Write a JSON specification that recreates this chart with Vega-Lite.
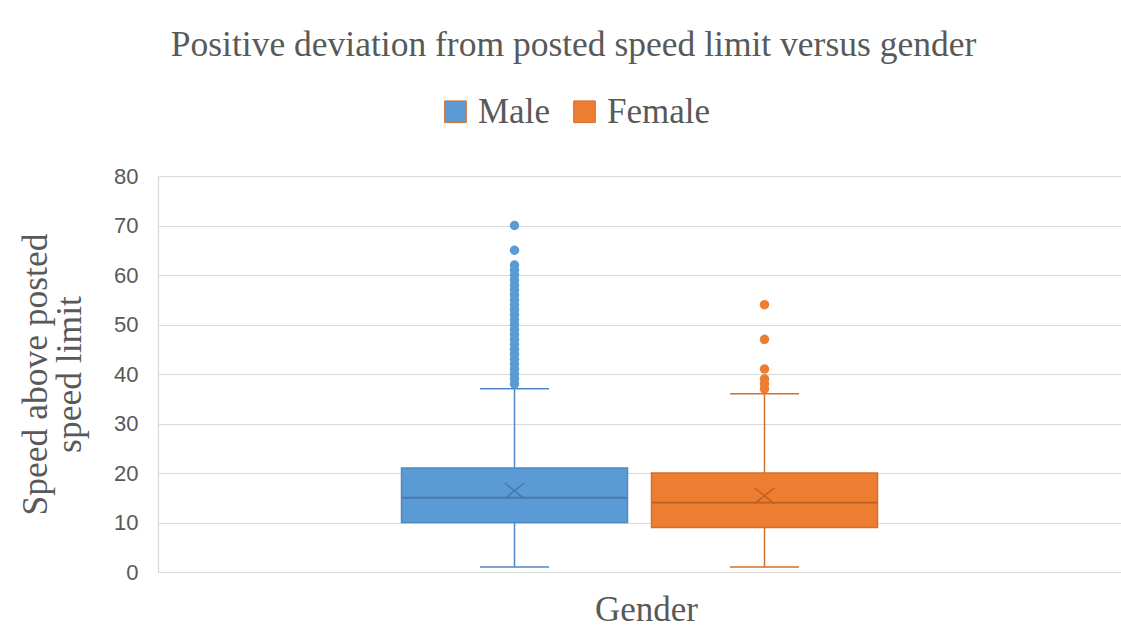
{
  "$schema": "https://vega.github.io/schema/vega-lite/v6.json",
  "width": 963,
  "height": 396,
  "autosize": "none",
  "padding": {"left": 158, "top": 176, "right": 0, "bottom": 63},
  "background": "white",
  "title": {
    "text": "Positive deviation from posted speed limit versus gender",
    "font": "Liberation Serif",
    "fontSize": 35.5,
    "fontWeight": "normal",
    "color": "#595959",
    "anchor": "middle",
    "baseline": "alphabetic",
    "dx": -66,
    "offset": 3
  },
  "datasets": {
    "boxes": [
      {"grp": "g", "gender": "Male", "lower": 1, "q1": 10, "median": 15, "q3": 21, "upper": 37, "mean": 16.4},
      {"grp": "g", "gender": "Female", "lower": 1, "q1": 9, "median": 14, "q3": 20, "upper": 36, "mean": 15.4}
    ],
    "outliers": [
      {"grp": "g", "gender": "Male", "value": 70},
      {"grp": "g", "gender": "Male", "value": 65},
      {"grp": "g", "gender": "Male", "value": 62},
      {"grp": "g", "gender": "Male", "value": 61},
      {"grp": "g", "gender": "Male", "value": 60},
      {"grp": "g", "gender": "Male", "value": 59},
      {"grp": "g", "gender": "Male", "value": 58},
      {"grp": "g", "gender": "Male", "value": 57},
      {"grp": "g", "gender": "Male", "value": 56},
      {"grp": "g", "gender": "Male", "value": 55},
      {"grp": "g", "gender": "Male", "value": 54},
      {"grp": "g", "gender": "Male", "value": 53},
      {"grp": "g", "gender": "Male", "value": 52},
      {"grp": "g", "gender": "Male", "value": 51},
      {"grp": "g", "gender": "Male", "value": 50},
      {"grp": "g", "gender": "Male", "value": 49},
      {"grp": "g", "gender": "Male", "value": 48},
      {"grp": "g", "gender": "Male", "value": 47},
      {"grp": "g", "gender": "Male", "value": 46},
      {"grp": "g", "gender": "Male", "value": 45},
      {"grp": "g", "gender": "Male", "value": 44},
      {"grp": "g", "gender": "Male", "value": 43},
      {"grp": "g", "gender": "Male", "value": 42},
      {"grp": "g", "gender": "Male", "value": 41},
      {"grp": "g", "gender": "Male", "value": 40},
      {"grp": "g", "gender": "Male", "value": 39},
      {"grp": "g", "gender": "Male", "value": 38},
      {"grp": "g", "gender": "Female", "value": 54},
      {"grp": "g", "gender": "Female", "value": 47},
      {"grp": "g", "gender": "Female", "value": 41},
      {"grp": "g", "gender": "Female", "value": 39},
      {"grp": "g", "gender": "Female", "value": 38},
      {"grp": "g", "gender": "Female", "value": 37}
    ]
  },
  "encoding": {
    "x": {
      "field": "grp", "type": "nominal",
      "scale": {"paddingInner": 0, "paddingOuter": 0},
      "axis": {"labels": false, "ticks": false, "domain": false, "title": "Gender",
               "titleFont": "Liberation Serif", "titleFontSize": 35, "titleFontWeight": "normal",
               "titleColor": "#595959", "titlePadding": 20, "titleX": 488}
    },
    "xOffset": {
      "field": "gender", "type": "nominal",
      "scale": {"domain": ["Male", "Female"], "paddingInner": 0.096, "paddingOuter": 0.974}
    }
  },
  "layer": [
    {
      "data": {"name": "boxes"},
      "mark": {"type": "rule", "strokeWidth": 1.5},
      "encoding": {
        "y": {"field": "lower", "type": "quantitative",
              "scale": {"domain": [0, 80], "nice": false},
              "axis": {"values": [0,10,20,30,40,50,60,70,80], "grid": true, "gridColor": "#D9D9D9", "gridWidth": 1.2,
                       "domain": true, "domainColor": "#D9D9D9", "domainWidth": 1.2, "ticks": false, "labelPadding": 20,
                       "labelFont": "Liberation Sans", "labelFontSize": 22, "labelColor": "#595959",
                       "title": ["Speed above posted", "speed limit"],
                       "titleFont": "Liberation Serif", "titleFontSize": 35.5, "titleFontWeight": "normal",
                       "titleColor": "#595959", "titlePadding": 26, "titleLineHeight": 34}},
        "y2": {"field": "q1"},
        "stroke": {"condition": {"test": "datum.gender === 'Male'", "value": "#4F88C4"}, "value": "#D0702C"}
      }
    },
    {
      "data": {"name": "boxes"},
      "mark": {"type": "rule", "strokeWidth": 1.5},
      "encoding": {
        "y": {"field": "q3", "type": "quantitative"},
        "y2": {"field": "upper"},
        "stroke": {"condition": {"test": "datum.gender === 'Male'", "value": "#4F88C4"}, "value": "#D0702C"}
      }
    },
    {
      "data": {"name": "boxes"},
      "mark": {"type": "tick", "orient": "horizontal", "size": 69, "thickness": 1.5, "opacity": 1},
      "encoding": {
        "y": {"field": "lower", "type": "quantitative"},
        "color": {"condition": {"test": "datum.gender === 'Male'", "value": "#4F88C4"}, "value": "#D0702C"}
      }
    },
    {
      "data": {"name": "boxes"},
      "mark": {"type": "tick", "orient": "horizontal", "size": 69, "thickness": 1.5, "opacity": 1},
      "encoding": {
        "y": {"field": "upper", "type": "quantitative"},
        "color": {"condition": {"test": "datum.gender === 'Male'", "value": "#4F88C4"}, "value": "#D0702C"}
      }
    },
    {
      "data": {"name": "boxes"},
      "mark": {"type": "bar", "strokeWidth": 1.5, "width": {"band": 1}},
      "encoding": {
        "y": {"field": "q1", "type": "quantitative"},
        "y2": {"field": "q3"},
        "fill": {"field": "gender", "type": "nominal",
                 "scale": {"domain": ["Male", "Female"], "range": ["#5B9BD5", "#ED7D31"]},
                 "legend": {"orient": "none", "legendX": 280, "legendY": -82, "direction": "horizontal",
                            "title": null, "symbolType": "square", "symbolSize": 470,
                            "symbolStrokeWidth": 1, "symbolOpacity": 1,
                            "labelFont": "Liberation Serif", "labelFontSize": 35, "labelColor": "#595959",
                            "labelOffset": 5, "columnPadding": 17,
                            "encode": {"symbols": {"update": {"stroke": {"signal": "datum.value === 'Male' ? '#4F88C4' : '#D0702C'"}}}}}},
        "stroke": {"condition": {"test": "datum.gender === 'Male'", "value": "#4F88C4"}, "value": "#D0702C"}
      }
    },
    {
      "data": {"name": "boxes"},
      "mark": {"type": "tick", "orient": "horizontal", "size": 226, "thickness": 1.8, "opacity": 1},
      "encoding": {
        "y": {"field": "median", "type": "quantitative"},
        "color": {"condition": {"test": "datum.gender === 'Male'", "value": "#4779AB"}, "value": "#BF5F22"}
      }
    },
    {
      "data": {"name": "boxes"},
      "mark": {"type": "point", "shape": "M-1,-0.8L1,0.8M-1,0.8L1,-0.8", "filled": false, "size": 380, "strokeWidth": 1.5, "opacity": 1},
      "encoding": {
        "y": {"field": "mean", "type": "quantitative"},
        "stroke": {"condition": {"test": "datum.gender === 'Male'", "value": "#4779AB"}, "value": "#BF5F22"}
      }
    },
    {
      "data": {"name": "outliers"},
      "mark": {"type": "circle", "size": 90, "opacity": 1},
      "encoding": {
        "y": {"field": "value", "type": "quantitative"},
        "color": {"condition": {"test": "datum.gender === 'Male'", "value": "#5B9BD5"}, "value": "#ED7D31"}
      }
    }
  ],
  "config": {"view": {"stroke": null}}
}
